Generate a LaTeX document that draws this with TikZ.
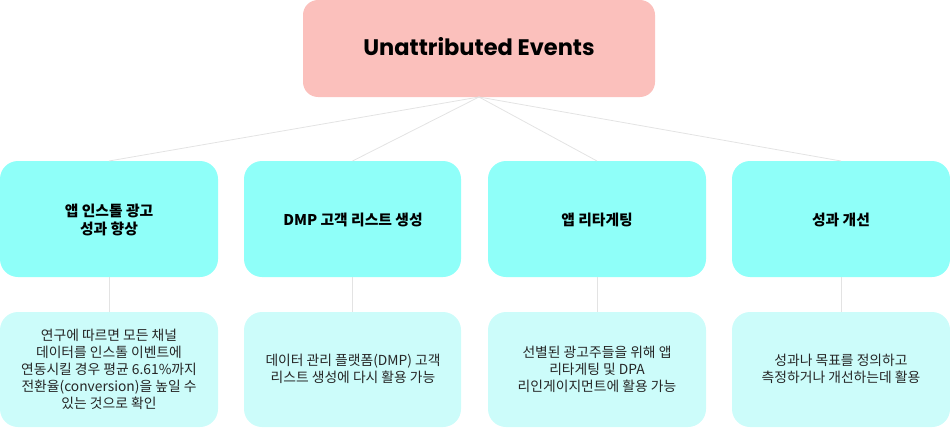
\documentclass[tikz,border=0pt]{standalone}
\usepackage{fontspec}
\setmainfont{Noto Sans CJK KR}
\newfontfamily\titlefont{Poppins}
\newfontfamily\kr{Noto Sans CJK KR}
\definecolor{rootfill}{HTML}{FBC0BC}
\definecolor{midfill}{HTML}{8FFFF9}
\definecolor{leaffill}{HTML}{CCFCFA}
\definecolor{linkgray}{HTML}{E3E3E3}
\begin{document}
\begin{tikzpicture}[x=1pt,y=-1pt,
  rootbox/.style={fill=rootfill,rounded corners=15pt,draw=none},
  midbox/.style={fill=midfill,rounded corners=18pt,draw=none},
  leafbox/.style={fill=leaffill,rounded corners=18pt,draw=none},
  midtext/.style={font=\kr\bfseries\fontsize{14.8}{18}\selectfont,align=center},
  leaftext/.style={font=\kr\fontsize{13.8}{17}\selectfont,align=center,text=black!85},
  link/.style={draw=linkgray,line width=0.8pt}]
\useasboundingbox (0,0) rectangle (950,428);
% boxes
\path[rootbox] (303,0) rectangle (655,97);
\node[font=\titlefont\bfseries\fontsize{22.5}{26}\selectfont] (root) at (479,47) {Unattributed Events};
\coordinate (rootb) at (479,97);
\foreach \i/\xa/\xb in {1/0/218,2/244/461,3/488/706,4/732/950}{
  \path[midbox] (\xa,161) rectangle (\xb,277);
  \path[leafbox] (\xa,312) rectangle (\xb,427);
  \coordinate (mt\i) at ({(\xa+\xb)/2},161);
  \coordinate (mb\i) at ({(\xa+\xb)/2},277);
  \coordinate (lt\i) at ({(\xa+\xb)/2},312);
}
\node[midtext] (m1) at (109,220) {앱 인스톨 광고\\성과 향상};
\node[midtext] (m2) at (353,220) {DMP 고객 리스트 생성};
\node[midtext] (m3) at (597,220) {앱 리타게팅};
\node[midtext] (m4) at (841,220) {성과 개선};
\node[leaftext] (l1) at (109,369) {연구에 따르면 모든 채널\\데이터를 인스톨 이벤트에\\연동시킬 경우 평균 6.61\%까지\\전환율(conversion)을 높일 수\\있는 것으로 확인};
\node[leaftext] (l2) at (353,369) {데이터 관리 플랫폼(DMP) 고객\\리스트 생성에 다시 활용 가능};
\node[leaftext] (l3) at (597,369) {선별된 광고주들을 위해 앱\\리타게팅 및 DPA\\리인게이지먼트에 활용 가능};
\node[leaftext] (l4) at (841,369) {성과나 목표를 정의하고\\측정하거나 개선하는데 활용};
% links
\foreach \i in {1,2,3,4}{
  \draw[link] (rootb) -- (mt\i);
  \draw[link] (mb\i) -- (lt\i);
}
\end{tikzpicture}
\end{document}
